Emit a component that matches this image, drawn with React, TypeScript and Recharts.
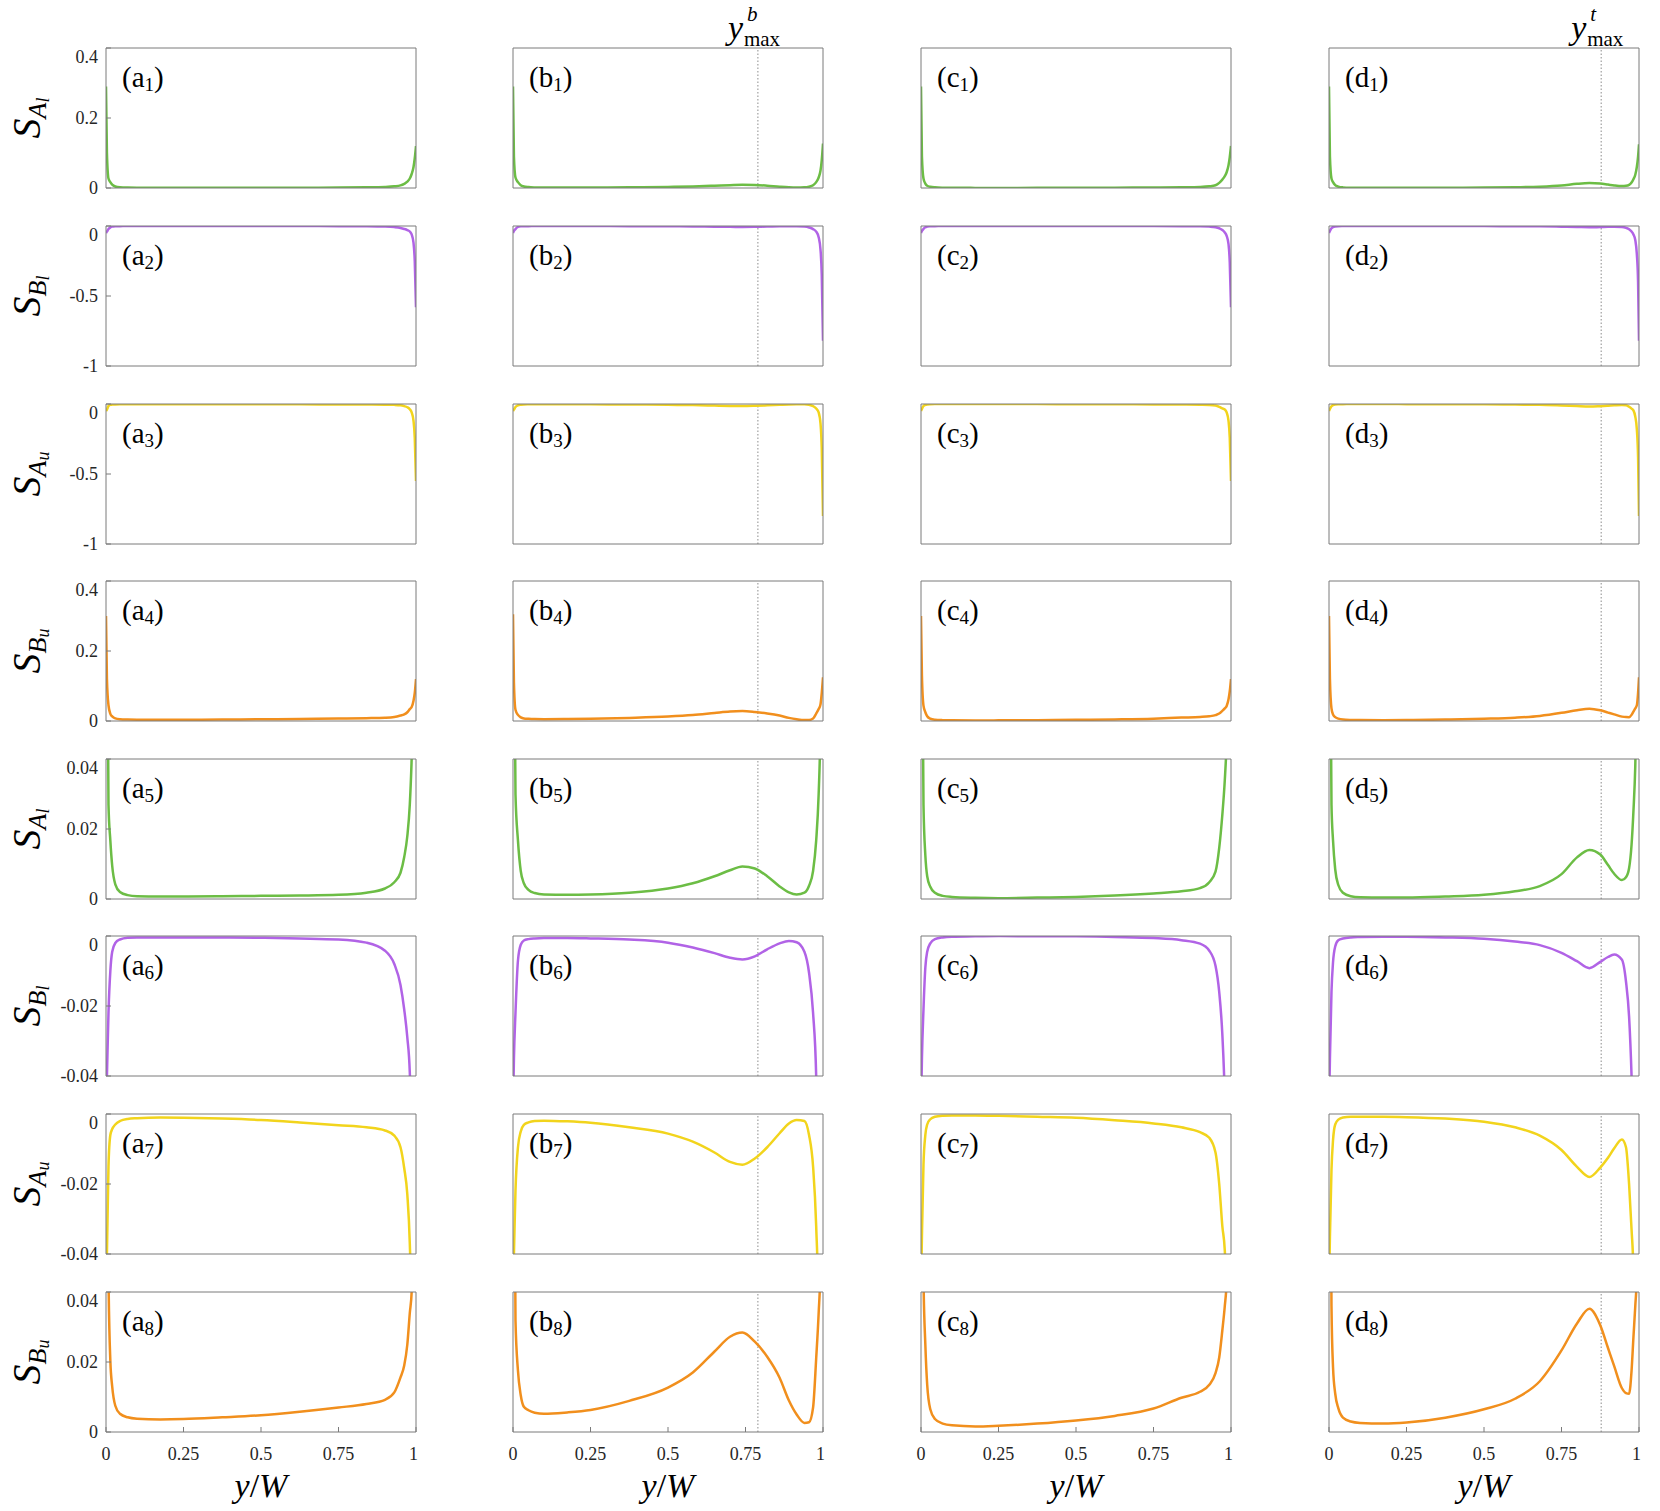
import React from 'react';
import { LineChart, Line, XAxis, YAxis, ReferenceLine } from 'recharts';

// sample positions along y/W, packed near the walls
const gridAC = [0, 0.003, 0.008, 0.014, 0.02, 0.03, 0.045, 0.07, 0.1, 0.175, 0.25, 0.375, 0.5, 0.625, 0.75, 0.84, 0.9, 0.93, 0.95, 0.962, 0.972, 0.98, 0.986, 0.992, 0.996, 1];
const gridB = [0, 0.003, 0.008, 0.016, 0.025, 0.035, 0.05, 0.07, 0.1, 0.175, 0.25, 0.375, 0.5, 0.58, 0.65, 0.7, 0.74, 0.78, 0.82, 0.86, 0.89, 0.915, 0.94, 0.955, 0.968, 0.978, 0.986, 0.992, 0.996, 1];
const gridD = [0, 0.003, 0.008, 0.013, 0.02, 0.03, 0.045, 0.07, 0.1, 0.175, 0.25, 0.375, 0.5, 0.6, 0.68, 0.75, 0.8, 0.84, 0.875, 0.9, 0.92, 0.945, 0.958, 0.968, 0.976, 0.982, 0.988, 0.993, 0.997, 1];

// column a
const saLowerA = [0.29, 0.1, 0.027, 0.0167, 0.0095, 0.0042, 0.002, 0.0011, 0.0008, 0.0007, 0.0007, 0.0008, 0.0009, 0.001, 0.0012, 0.0018, 0.003, 0.0048, 0.0075, 0.012, 0.018, 0.027, 0.04, 0.06, 0.085, 0.12];
const sbLowerA = [-0.05, -0.04, -0.022, -0.01, -0.0045, -0.002, -0.001, -0.0005, -0.0004, -0.0004, -0.0004, -0.0004, -0.0005, -0.0007, -0.001, -0.0019, -0.0042, -0.008, -0.014, -0.021, -0.029, -0.039, -0.06, -0.12, -0.25, -0.58];
const saUpperA = [-0.05, -0.04, -0.015, -0.006, -0.0043, -0.003, -0.002, -0.0014, -0.0012, -0.001, -0.00105, -0.0013, -0.0017, -0.0024, -0.0032, -0.0038, -0.0047, -0.0062, -0.0095, -0.0155, -0.023, -0.037, -0.06, -0.12, -0.24, -0.55];
const sbUpperA = [0.3, 0.12, 0.045, 0.0204, 0.013, 0.0075, 0.0052, 0.0042, 0.0038, 0.0036, 0.0037, 0.0042, 0.0048, 0.0058, 0.007, 0.008, 0.0092, 0.0113, 0.0156, 0.019, 0.025, 0.034, 0.04, 0.058, 0.08, 0.12];

// column b
const saLowerB = [0.29, 0.09, 0.03, 0.0167, 0.008, 0.0045, 0.0026, 0.0017, 0.0013, 0.0012, 0.0013, 0.0018, 0.003, 0.0045, 0.0065, 0.0082, 0.0093, 0.0087, 0.0065, 0.0036, 0.0019, 0.0013, 0.0018, 0.0038, 0.008, 0.0167, 0.03, 0.05, 0.08, 0.127];
const sbLowerB = [-0.05, -0.035, -0.022, -0.007, -0.0025, -0.0013, -0.0009, -0.0007, -0.0006, -0.0006, -0.0007, -0.001, -0.0019, -0.0033, -0.0049, -0.0062, -0.0067, -0.0058, -0.0038, -0.0021, -0.0014, -0.0018, -0.0045, -0.0105, -0.022, -0.04, -0.08, -0.17, -0.35, -0.82];
const saUpperB = [-0.05, -0.04, -0.022, -0.0095, -0.005, -0.0031, -0.0024, -0.002, -0.0019, -0.0021, -0.0025, -0.0038, -0.0056, -0.0079, -0.011, -0.0137, -0.0145, -0.0127, -0.0095, -0.0055, -0.0027, -0.0017, -0.002, -0.006, -0.015, -0.032, -0.06, -0.14, -0.32, -0.8];
const sbUpperB = [0.305, 0.11, 0.032, 0.0175, 0.0105, 0.0072, 0.0062, 0.0055, 0.0052, 0.0056, 0.0063, 0.0089, 0.0127, 0.017, 0.023, 0.0272, 0.0284, 0.0258, 0.0215, 0.0155, 0.009, 0.005, 0.0026, 0.0028, 0.007, 0.021, 0.034, 0.048, 0.08, 0.125];

// column c
const saLowerC = [0.29, 0.09, 0.027, 0.0125, 0.0065, 0.0035, 0.0018, 0.0009, 0.0006, 0.00035, 0.00025, 0.0004, 0.0006, 0.001, 0.0016, 0.0022, 0.0031, 0.0048, 0.0078, 0.0146, 0.024, 0.034, 0.045, 0.065, 0.088, 0.12];
const sbLowerC = [-0.05, -0.035, -0.021, -0.009, -0.0045, -0.0021, -0.0009, -0.0004, -0.0002, -0.0001, 0, -0.0001, -0.0001, -0.0003, -0.0006, -0.0012, -0.0022, -0.0042, -0.0085, -0.016, -0.028, -0.046, -0.07, -0.13, -0.26, -0.58];
const saUpperC = [-0.05, -0.035, -0.0145, -0.006, -0.003, -0.0015, -0.0008, -0.0005, -0.0004, -0.0004, -0.0005, -0.0008, -0.0011, -0.0018, -0.0027, -0.0038, -0.0052, -0.0068, -0.011, -0.02, -0.032, -0.039, -0.06, -0.12, -0.24, -0.55];
const sbUpperC = [0.3, 0.13, 0.044, 0.025, 0.0135, 0.0065, 0.0037, 0.0024, 0.0019, 0.0016, 0.0018, 0.0024, 0.0033, 0.0046, 0.0067, 0.0098, 0.0115, 0.0135, 0.0168, 0.0213, 0.029, 0.036, 0.043, 0.062, 0.085, 0.12];

// column d
const saLowerD = [0.29, 0.09, 0.027, 0.0167, 0.0085, 0.004, 0.0018, 0.0008, 0.0005, 0.0004, 0.0004, 0.0007, 0.0012, 0.0022, 0.0037, 0.0071, 0.0119, 0.014, 0.0127, 0.0097, 0.0072, 0.0054, 0.0062, 0.0088, 0.0155, 0.025, 0.038, 0.06, 0.09, 0.125];
const sbLowerD = [-0.05, -0.035, -0.016, -0.0075, -0.003, -0.0012, -0.0007, -0.0004, -0.0003, -0.0002, -0.0002, -0.0004, -0.0008, -0.0016, -0.0026, -0.0048, -0.0072, -0.0092, -0.0074, -0.006, -0.0053, -0.0068, -0.013, -0.023, -0.04, -0.06, -0.1, -0.2, -0.4, -0.82];
const saUpperD = [-0.05, -0.035, -0.016, -0.0075, -0.003, -0.0016, -0.001, -0.0008, -0.0008, -0.0008, -0.0009, -0.0013, -0.0022, -0.0038, -0.0062, -0.0103, -0.0151, -0.018, -0.0153, -0.0125, -0.0098, -0.0073, -0.0095, -0.02, -0.033, -0.045, -0.09, -0.18, -0.38, -0.8];
const sbUpperD = [0.3, 0.12, 0.036, 0.0185, 0.011, 0.0068, 0.0041, 0.003, 0.0026, 0.0024, 0.0027, 0.0041, 0.0065, 0.0095, 0.0145, 0.0233, 0.031, 0.0352, 0.0305, 0.024, 0.0188, 0.0125, 0.0111, 0.0109, 0.0175, 0.027, 0.036, 0.045, 0.08, 0.125];

const xTicks = [0, 0.25, 0.5, 0.75, 1];
const ymaxB = 0.79;
const ymaxD = 0.878;

const columns = [
  { id: 'a', grid: gridAC, series: [saLowerA, sbLowerA, saUpperA, sbUpperA], marker: null, tag: '' },
  { id: 'b', grid: gridB, series: [saLowerB, sbLowerB, saUpperB, sbUpperB], marker: ymaxB, tag: 'b' },
  { id: 'c', grid: gridAC, series: [saLowerC, sbLowerC, saUpperC, sbUpperC], marker: null, tag: '' },
  { id: 'd', grid: gridD, series: [saLowerD, sbLowerD, saUpperD, sbUpperD], marker: ymaxD, tag: 't' },
];

const seriesInfo = [
  { color: '#6cbd45', letter: 'A', sub: 'l' },
  { color: '#b163e6', letter: 'B', sub: 'l' },
  { color: '#f2d41c', letter: 'A', sub: 'u' },
  { color: '#f18f1d', letter: 'B', sub: 'u' },
];

const rows = [
  { s: 0, domain: [0, 0.4], ticks: [0, 0.2, 0.4] },
  { s: 1, domain: [-1, 0], ticks: [-1, -0.5, 0] },
  { s: 2, domain: [-1, 0], ticks: [-1, -0.5, 0] },
  { s: 3, domain: [0, 0.4], ticks: [0, 0.2, 0.4] },
  { s: 0, domain: [0, 0.04], ticks: [0, 0.02, 0.04] },
  { s: 1, domain: [-0.04, 0], ticks: [-0.04, -0.02, 0] },
  { s: 2, domain: [-0.04, 0], ticks: [-0.04, -0.02, 0] },
  { s: 3, domain: [0, 0.04], ticks: [0, 0.02, 0.04] },
];

const PLOT_X = [106, 513, 921, 1329];
const PLOT_Y = [48, 226, 404, 581, 759, 936, 1114, 1292];
const PLOT_W = 310;
const PLOT_H = 140;
const AXIS_W = 60;
const AXIS_H = 40;
const PAD = 2;
const BOX = '#7a7a7a';
const FONT = '"Liberation Serif", "Times New Roman", serif';
const tickStyle = { fill: '#262626', fontSize: 18, fontFamily: FONT };

function Panel({ ci, ri }: { ci: number; ri: number }) {
  const col = columns[ci];
  const row = rows[ri];
  const values = col.series[row.s];
  const data = col.grid.map((x, k) => ({ x, v: values[k] }));
  const showY = ci === 0;
  const showX = ri === rows.length - 1;

  return (
    <div style={{ position: 'absolute', left: PLOT_X[ci] - AXIS_W, top: PLOT_Y[ri] - PAD }}>
      <LineChart
        width={AXIS_W + PLOT_W + PAD}
        height={PAD + PLOT_H + AXIS_H}
        data={data}
        margin={{ top: PAD - 1, right: PAD - 1, left: 0, bottom: 0 }}
      >
        <XAxis
          dataKey="x"
          type="number"
          domain={[0, 1]}
          ticks={xTicks}
          height={AXIS_H}
          stroke={BOX}
          tickSize={-5}
          tickMargin={20}
          tick={showX ? tickStyle : false}
          tickFormatter={(v) => String(v)}
          allowDataOverflow
        />
        <XAxis
          xAxisId="top"
          orientation="top"
          dataKey="x"
          type="number"
          domain={[0, 1]}
          ticks={xTicks}
          height={1}
          tick={false}
          tickSize={-5}
          stroke={BOX}
          allowDataOverflow
        />
        <YAxis
          type="number"
          domain={row.domain}
          ticks={row.ticks}
          width={AXIS_W}
          stroke={BOX}
          tickSize={-5}
          tickMargin={13}
          tick={showY ? tickStyle : false}
          tickFormatter={(v) => String(v)}
          allowDataOverflow
        />
        <YAxis
          yAxisId="right"
          orientation="right"
          type="number"
          domain={row.domain}
          ticks={row.ticks}
          width={1}
          tick={false}
          tickSize={-5}
          stroke={BOX}
          allowDataOverflow
        />
        {col.marker !== null && (
          <ReferenceLine x={col.marker} stroke="#8c8c8c" strokeWidth={1} strokeDasharray="1.5 2" />
        )}
        <Line
          dataKey="v"
          type="monotone"
          stroke={seriesInfo[row.s].color}
          strokeWidth={2.5}
          dot={false}
          isAnimationActive={false}
        />
      </LineChart>
    </div>
  );
}

function Annotations() {
  return (
    <svg
      width={1660}
      height={1511}
      style={{ position: 'absolute', left: 0, top: 0, pointerEvents: 'none' }}
      fontFamily={FONT}
    >
      {/* y-axis labels */}
      {rows.map((row, ri) => {
        const info = seriesInfo[row.s];
        return (
          <text
            key={`yl${ri}`}
            transform={`translate(40, ${PLOT_Y[ri] + PLOT_H / 2}) rotate(-90)`}
            textAnchor="middle"
            fill="#000"
          >
            <tspan fontSize={40} fontStyle="italic">S</tspan>
            <tspan fontSize={26} fontStyle="italic" dy={6}>{info.letter}</tspan>
            <tspan fontSize={18} fontStyle="italic" dy={3}>{info.sub}</tspan>
          </text>
        );
      })}

      {/* panel tags */}
      {columns.map((col, ci) =>
        rows.map((_, ri) => (
          <text key={`p${ci}${ri}`} x={PLOT_X[ci] + 16} y={PLOT_Y[ri] + 39} fontSize={29} fill="#000">
            <tspan>({col.id}</tspan>
            <tspan fontSize={19} dy={4}>{ri + 1}</tspan>
            <tspan dy={-4}>)</tspan>
          </text>
        ))
      )}

      {/* x-axis labels */}
      {columns.map((col, ci) => (
        <text
          key={`xl${ci}`}
          x={PLOT_X[ci] + PLOT_W / 2}
          y={1497}
          textAnchor="middle"
          fontSize={34}
          fill="#000"
        >
          <tspan fontStyle="italic">y</tspan>
          <tspan>/</tspan>
          <tspan fontStyle="italic">W</tspan>
        </text>
      ))}

      {/* y_max markers above columns b and d */}
      {columns.map((col, ci) => {
        if (col.marker === null) return null;
        const lx = PLOT_X[ci] + col.marker * PLOT_W;
        return (
          <g key={`ym${ci}`} fill="#000">
            <text x={lx - 30} y={39} fontSize={34} fontStyle="italic">y</text>
            <text x={lx - 11} y={21} fontSize={21} fontStyle="italic">{col.tag}</text>
            <text x={lx - 14} y={46} fontSize={21}>max</text>
          </g>
        );
      })}
    </svg>
  );
}

export default function App() {
  return (
    <div
      style={{
        position: 'absolute',
        left: 0,
        top: 0,
        width: 1660,
        height: 1511,
        background: '#fff',
        fontFamily: FONT,
      }}
    >
      {columns.map((_, ci) => rows.map((__, ri) => <Panel key={`${ci}-${ri}`} ci={ci} ri={ri} />))}
      <Annotations />
    </div>
  );
}
